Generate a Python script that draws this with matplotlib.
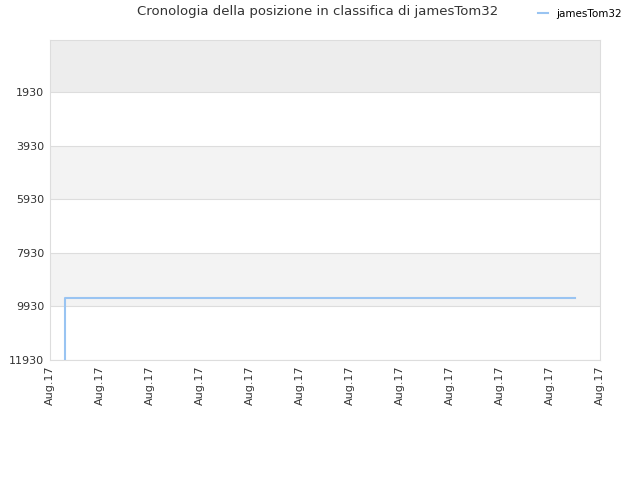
import matplotlib
matplotlib.use("Agg")
import matplotlib.pyplot as plt
from matplotlib.lines import Line2D

# Data
tick_labels = ["Aug.17"] * 12
x_pos = [0.3, 0.3, 10.5]
ranks = [11930, 9620, 9620]
y_ticks = [1930, 3930, 5930, 7930, 9930, 11930]
series_name = "jamesTom32"
title = "Cronologia della posizione in classifica di jamesTom32"

fig = plt.figure(figsize=(6.4, 4.8), dpi=100)
ax = fig.add_axes([50/640, 1-360/480, 550/640, 320/480])

ytop = -10
ax.set_ylim(11930, ytop)
ax.set_xlim(0, 11)

# background bands
ax.axhspan(ytop, 1930, color="#ededed", zorder=0, lw=0)
ax.axhspan(3930, 5930, color="#f3f3f3", zorder=0, lw=0)
ax.axhspan(7930, 9930, color="#f3f3f3", zorder=0, lw=0)
for yv in y_ticks:
    ax.axhline(yv, color="#dddddd", lw=0.8, zorder=1)

ax.plot(x_pos, ranks, color="#99c4f2", lw=1.5, zorder=3)

ax.set_yticks(y_ticks)
ax.set_yticklabels([str(v) for v in y_ticks], fontsize=8, color="#333333")
ax.set_xticks(range(12))
ax.set_xticklabels(tick_labels, rotation=90, fontsize=8, color="#333333")
ax.tick_params(length=0, pad=4)
for s in ax.spines.values():
    s.set_color("#dddddd")
    s.set_linewidth(0.8)

fig.text(318/640, 1-12/480, title, ha="center", va="center", fontsize=9.5, color="#333333")

handle = Line2D([], [], color="#99c4f2", lw=1.5)
fig.legend([handle], [series_name], loc="center", bbox_to_anchor=(580/640, 1-14/480),
           frameon=False, fontsize=7.5, handlelength=1.0, handletextpad=0.8)

fig.savefig("out.png", dpi=100)
